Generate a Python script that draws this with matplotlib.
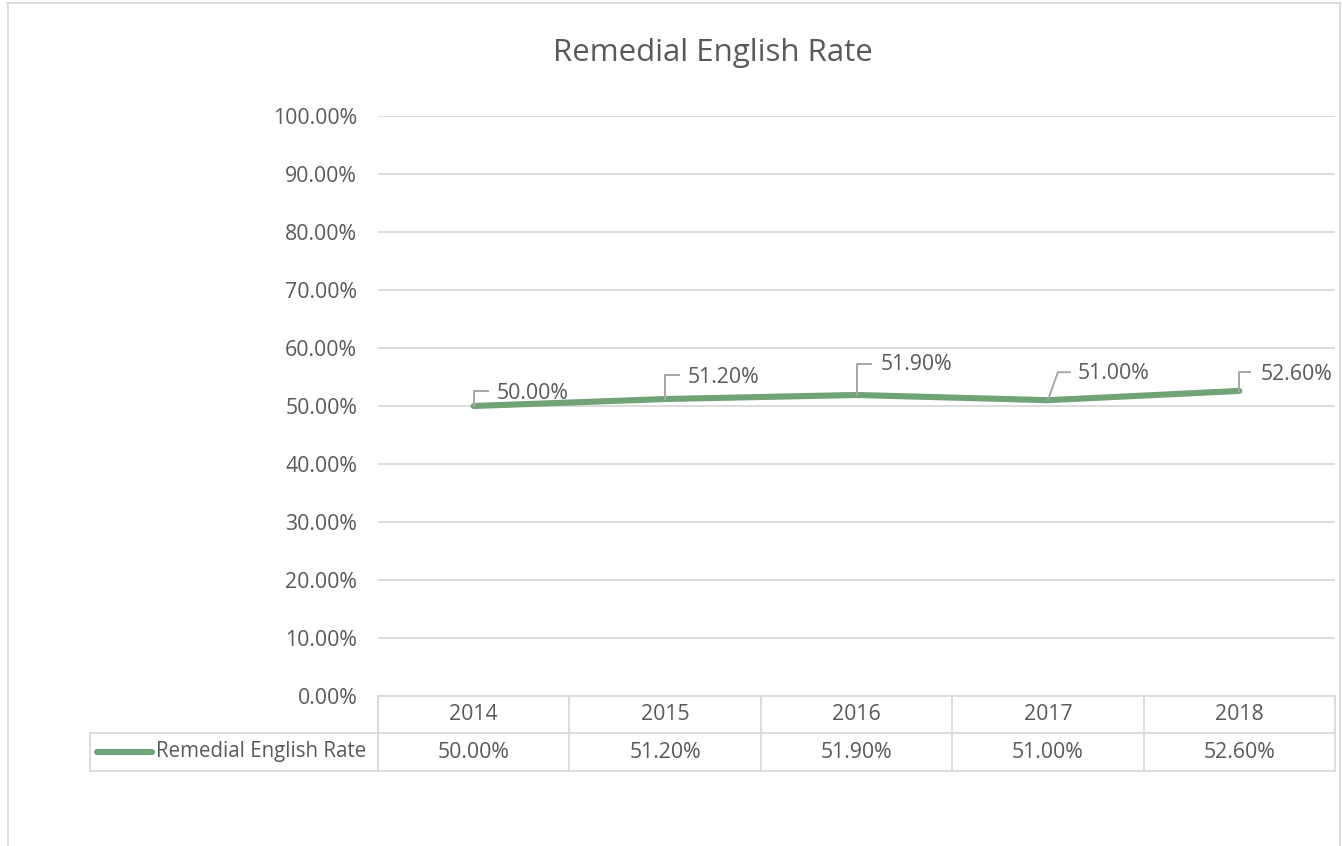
import matplotlib
matplotlib.use("Agg")
import matplotlib.pyplot as plt
from matplotlib.lines import Line2D
from matplotlib.transforms import Affine2D, blended_transform_factory

plt.rcParams['font.family'] = ['Open Sans', 'DejaVu Sans']

years = ['2014', '2015', '2016', '2017', '2018']
rates = [0.500, 0.512, 0.519, 0.510, 0.526]
rate_labels = ['50.00%', '51.20%', '51.90%', '51.00%', '52.60%']
series_name = 'Remedial English Rate'
yticks = [i / 10 for i in range(11)]
ytick_labels = ['%.2f%%' % (t * 100) for t in yticks]
title = 'Remedial English Rate'

W, H = 1342, 846
TXT = '#595959'
GRID = '#D9D9D9'
LINE = '#70A477'
LEAD = '#A6A6A6'

fig = plt.figure(figsize=(W / 100, H / 100), dpi=100)

# outer chart border
def fx(px): return px / W
def fy(py): return 1 - py / H
for (x0, y0, x1, y1) in [(7, 3.5, 1340, 3.5), (7.5, 3, 7.5, 846), (1340, 3, 1340, 846)]:
    fig.add_artist(Line2D([fx(x0), fx(x1)], [fy(y0), fy(y1)], transform=fig.transFigure,
                          color=GRID, lw=1.3))

ax_l, ax_r, ax_t, ax_b = 378, 1335, 116, 696
ax = fig.add_axes([fx(ax_l), fy(ax_b), (ax_r - ax_l) / W, (ax_b - ax_t) / H])
ax.set_xlim(-0.5, len(years) - 0.5)
ax.set_ylim(0, 1)
for s in ax.spines.values():
    s.set_visible(False)
ax.set_yticks(yticks)
ax.set_yticklabels(ytick_labels, fontsize=15.3, color=TXT)
ax.tick_params(axis='y', length=0, pad=15)
ax.set_xticks([])
ax.grid(axis='y', color=GRID, lw=1.3)
ax.set_axisbelow(True)

xs = list(range(len(years)))
ax.plot(xs, rates, color=LINE, lw=4.4, solid_capstyle='round', solid_joinstyle='round', zorder=3)

fig.text(fx(713), fy(53), title, ha='center', va='center', fontsize=22.5, color=TXT)

# data labels with leader lines (pixel offsets: leader vertices, text anchor)
leaders = [
    ([0, 0, 14], [0, 15, 15], (23, 13)),
    ([0, 0, 14], [0, 24, 24], (23, 22)),
    ([0, 0, 14], [0, 31, 31], (24, 30)),
    ([0, 10, 22], [0, 28, 28], (30, 27)),
    ([0, 0, 11], [0, 19, 19], (21, 16)),
]
for i, (v, lab) in enumerate(zip(rates, rate_labels)):
    px, py = ax.transData.transform((xs[i], v))
    lx, ly, (tx, ty) = leaders[i]
    tr = Affine2D().translate(px, py)
    fig.add_artist(Line2D(lx, ly, transform=tr, color=LEAD, lw=1.4, zorder=4))
    fig.text(px + tx, py + ty, lab, transform=None, ha='left', va='center',
             fontsize=15.3, color=TXT)

# data table below axis
bt = blended_transform_factory(ax.transData, ax.transAxes)
ah = ax_b - ax_t
r1 = -37 / ah
r2 = -75 / ah
leg_x = -(ax_l - 90) / (ax_r - ax_l)
tlw = 1.3
ax.add_line(Line2D([-0.5, len(years) - 0.5], [0, 0], transform=bt, color=GRID, lw=tlw, clip_on=False))
ax.add_line(Line2D([leg_x, 1], [r1, r1], transform=ax.transAxes, color=GRID, lw=tlw, clip_on=False))
ax.add_line(Line2D([leg_x, 1], [r2, r2], transform=ax.transAxes, color=GRID, lw=tlw, clip_on=False))
ax.add_line(Line2D([leg_x, leg_x], [r1, r2], transform=ax.transAxes, color=GRID, lw=tlw, clip_on=False))
for k in range(len(years) + 1):
    ax.add_line(Line2D([k - 0.5, k - 0.5], [0, r2], transform=bt, color=GRID, lw=tlw, clip_on=False))
for i, (yr, lab) in enumerate(zip(years, rate_labels)):
    ax.text(xs[i], r1 / 2, yr, transform=bt, ha='center', va='center', fontsize=15.3, color=TXT)
    ax.text(xs[i], (r1 + r2) / 2, lab, transform=bt, ha='center', va='center', fontsize=15.3, color=TXT)
ym = (r1 + r2) / 2
lk0 = -(ax_l - 97) / (ax_r - ax_l)
lk1 = -(ax_l - 152) / (ax_r - ax_l)
ax.add_line(Line2D([lk0, lk1], [ym, ym], transform=ax.transAxes, color=LINE, lw=4.4,
                   solid_capstyle='round', clip_on=False))
ax.text(-(ax_l - 156) / (ax_r - ax_l), ym, series_name, transform=ax.transAxes,
        ha='left', va='center', fontsize=14.8, color=TXT)

fig.savefig('out.png', dpi=100, facecolor='white')
